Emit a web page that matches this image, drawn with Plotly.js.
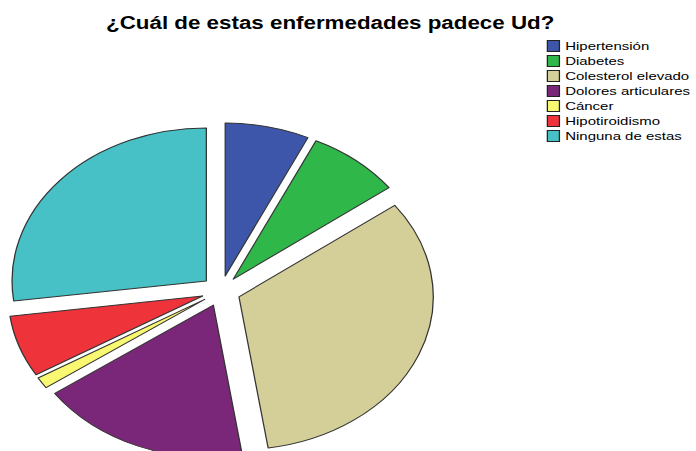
<!DOCTYPE html>
<html>
<head>
<meta charset="utf-8">
<script src="https://cdn.plot.ly/plotly-3.0.1.min.js"></script>
<style>
  html, body { margin: 0; padding: 0; overflow: hidden; background: #fff; }
  #chart { width: 548px; height: 470px; transform: scaleX(1.27); transform-origin: 0 0; }
</style>
</head>
<body>
<div id="chart"></div>
<script>
// Data (percent of respondents)
const categories = ["Hipertensión", "Diabetes", "Colesterol elevado", "Dolores articulares", "Cáncer", "Hipotiroidismo", "Ninguna de estas"];
const values = [7.0, 7.8, 32.8, 17.6, 1.2, 6.5, 27.1];
const colors = ["#3D56A9", "#2FB74A", "#D4CE98", "#7B2779", "#F9F871", "#EE333B", "#47C1C5"];
const chartTitle = "¿Cuál de estas enfermedades padece Ud?";

const W = 548, H = 470;

const trace = {
  type: "pie",
  labels: categories,
  values: values,
  sort: false,
  direction: "clockwise",
  rotation: 0,
  pull: 0.1,
  textinfo: "none",
  hoverinfo: "label+percent",
  marker: { colors: colors, line: { color: "#333333", width: 1 } },
  domain: { x: [0.0104, 0.6246], y: [0.0228, 0.739] },
  showlegend: false
};

// Legend drawn as shapes + annotations, built from the category arrays
const legX0 = 431, legX1 = 440.5, legTextX = 443, legY0 = 46, legStep = 15, legHalf = 5.5;
const shapes = [], annotations = [];
categories.forEach((c, i) => {
  const yc = legY0 + i * legStep;
  shapes.push({
    type: "rect", xref: "paper", yref: "paper",
    x0: legX0 / W, x1: legX1 / W,
    y0: (H - (yc + legHalf)) / H, y1: (H - (yc - legHalf)) / H,
    fillcolor: colors[i], line: { color: "#222222", width: 1 }
  });
  annotations.push({
    xref: "paper", yref: "paper",
    x: legTextX / W, y: (H - yc) / H,
    xanchor: "left", yanchor: "middle",
    text: c, showarrow: false,
    font: { family: "Liberation Sans, Arial, sans-serif", size: 11.8, color: "#000" }
  });
});

const layout = {
  width: W, height: H,
  margin: { l: 0, r: 0, t: 0, b: 0 },
  paper_bgcolor: "#ffffff",
  title: {
    text: "<b>" + chartTitle + "</b>",
    font: { family: "Liberation Sans, Arial, sans-serif", size: 17.6, color: "#000" },
    xref: "container", yref: "container",
    x: 260 / W, xanchor: "center",
    y: (H - 23) / H, yanchor: "middle"
  },
  shapes: shapes,
  annotations: annotations,
  showlegend: false
};

Plotly.newPlot("chart", [trace], layout, { displayModeBar: false, staticPlot: true });
</script>
</body>
</html>
